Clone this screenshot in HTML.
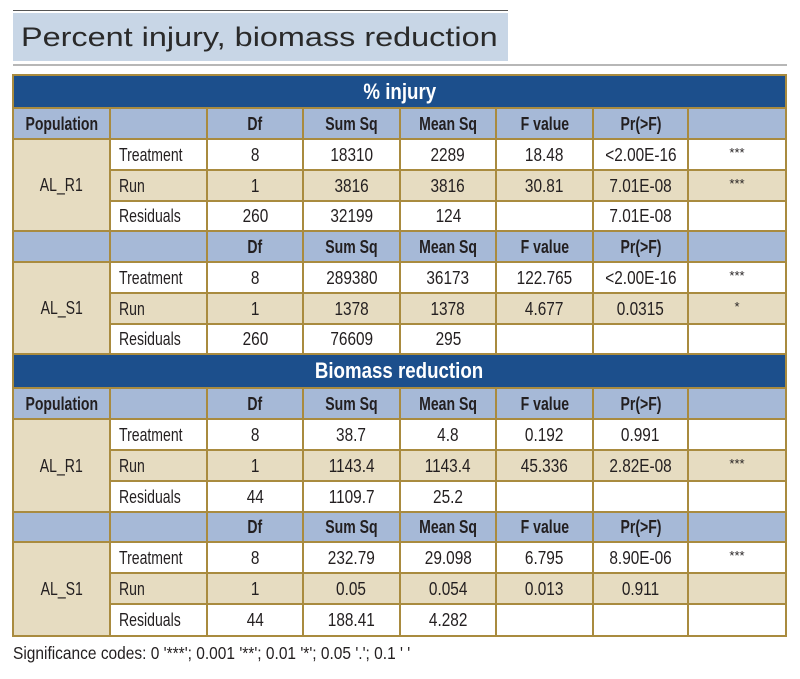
<!DOCTYPE html>
<html><head><meta charset="utf-8">
<style>
html,body{margin:0;padding:0;background:#fff;}
body{width:800px;height:679px;position:relative;overflow:hidden;font-family:"Liberation Sans",sans-serif;color:#231f20;}
.topline{position:absolute;left:13px;top:10px;width:495px;height:1px;background:#555;}
.tbox{position:absolute;left:13px;top:13px;width:495px;height:48px;background:#c8d6e6;}
.title{position:absolute;left:21px;top:13px;height:48px;line-height:48px;font-size:27px;color:#2a2a2a;white-space:nowrap;transform:scaleX(1.2);transform-origin:left center;}
.rule{position:absolute;left:13px;top:64px;width:774px;height:2px;background:#b7b7b7;}
.t{position:absolute;left:12px;top:74px;width:775px;height:563px;box-sizing:border-box;padding:2px;background:#a98b3f;display:grid;
grid-template-columns:95px 95px 94px 95px 94px 95px 93px 96px;
grid-template-rows:31px 29px 29px 29px 28px 29px 29px 29px 28px 32px 29px 29px 29px 29px 28px 29px 29px 30px;gap:2px;}
.t>div{display:flex;align-items:center;justify-content:center;font-size:18.5px;white-space:nowrap;overflow:visible;}
.t span{display:inline-block;transform:scaleX(.83);}
.t span.w{transform:scaleX(.76);}
.d{background:#1c4f8c;color:#fff;font-weight:bold;}
.d span{font-size:22px;transform:scaleX(.85)!important;}
.h{background:#a6b9d7;font-weight:bold;}
.h span{transform:scaleX(.76)!important;}
.w0{background:#fff;}
.tn{background:#e6dcc1;}
.p{background:#e6dcc1;}
.l{justify-content:flex-start!important;padding-left:8px;}
.l span{transform-origin:left center;}
.s span{font-size:13px;transform:none!important;position:relative;top:-2px;}
.foot{position:absolute;left:13px;top:643px;font-size:17.5px;white-space:nowrap;transform:scaleX(.885);transform-origin:left center;color:#231f20;}
</style></head><body>
<div class="topline"></div>
<div class="tbox"></div>
<div class="title">Percent injury, biomass reduction</div>
<div class="rule"></div>

<div class="t">
<div class="d" style="grid-column:1/9;grid-row:1"><span>% injury</span></div>
<div class="h"><span>Population</span></div><div class="h"></div><div class="h"><span>Df</span></div><div class="h"><span>Sum Sq</span></div><div class="h"><span>Mean Sq</span></div><div class="h"><span>F value</span></div><div class="h"><span>Pr(&gt;F)</span></div><div class="h"></div>
<div class="p" style="grid-column:1;grid-row:3/6"><span class="w">AL_R1</span></div>
<div class="w0 l"><span class="w">Treatment</span></div><div class="w0"><span>8</span></div><div class="w0"><span>18310</span></div><div class="w0"><span>2289</span></div><div class="w0"><span>18.48</span></div><div class="w0"><span>&lt;2.00E-16</span></div><div class="w0 s"><span>***</span></div>
<div class="tn l"><span class="w">Run</span></div><div class="tn"><span>1</span></div><div class="tn"><span>3816</span></div><div class="tn"><span>3816</span></div><div class="tn"><span>30.81</span></div><div class="tn"><span>7.01E-08</span></div><div class="tn s"><span>***</span></div>
<div class="w0 l"><span class="w">Residuals</span></div><div class="w0"><span>260</span></div><div class="w0"><span>32199</span></div><div class="w0"><span>124</span></div><div class="w0"></div><div class="w0"><span>7.01E-08</span></div><div class="w0"></div>
<div class="h"></div><div class="h"></div><div class="h"><span>Df</span></div><div class="h"><span>Sum Sq</span></div><div class="h"><span>Mean Sq</span></div><div class="h"><span>F value</span></div><div class="h"><span>Pr(&gt;F)</span></div><div class="h"></div>
<div class="p" style="grid-column:1;grid-row:7/10"><span class="w">AL_S1</span></div>
<div class="w0 l"><span class="w">Treatment</span></div><div class="w0"><span>8</span></div><div class="w0"><span>289380</span></div><div class="w0"><span>36173</span></div><div class="w0"><span>122.765</span></div><div class="w0"><span>&lt;2.00E-16</span></div><div class="w0 s"><span>***</span></div>
<div class="tn l"><span class="w">Run</span></div><div class="tn"><span>1</span></div><div class="tn"><span>1378</span></div><div class="tn"><span>1378</span></div><div class="tn"><span>4.677</span></div><div class="tn"><span>0.0315</span></div><div class="tn s"><span>*</span></div>
<div class="w0 l"><span class="w">Residuals</span></div><div class="w0"><span>260</span></div><div class="w0"><span>76609</span></div><div class="w0"><span>295</span></div><div class="w0"></div><div class="w0"></div><div class="w0"></div>

<div class="d" style="grid-column:1/9;grid-row:10"><span>Biomass reduction</span></div>
<div class="h" style="grid-row:11;grid-column:1"><span>Population</span></div><div class="h"></div><div class="h"><span>Df</span></div><div class="h"><span>Sum Sq</span></div><div class="h"><span>Mean Sq</span></div><div class="h"><span>F value</span></div><div class="h"><span>Pr(&gt;F)</span></div><div class="h"></div>
<div class="p" style="grid-column:1;grid-row:12/15"><span class="w">AL_R1</span></div>
<div class="w0 l"><span class="w">Treatment</span></div><div class="w0"><span>8</span></div><div class="w0"><span>38.7</span></div><div class="w0"><span>4.8</span></div><div class="w0"><span>0.192</span></div><div class="w0"><span>0.991</span></div><div class="w0"></div>
<div class="tn l"><span class="w">Run</span></div><div class="tn"><span>1</span></div><div class="tn"><span>1143.4</span></div><div class="tn"><span>1143.4</span></div><div class="tn"><span>45.336</span></div><div class="tn"><span>2.82E-08</span></div><div class="tn s"><span>***</span></div>
<div class="w0 l"><span class="w">Residuals</span></div><div class="w0"><span>44</span></div><div class="w0"><span>1109.7</span></div><div class="w0"><span>25.2</span></div><div class="w0"></div><div class="w0"></div><div class="w0"></div>
<div class="h"></div><div class="h"></div><div class="h"><span>Df</span></div><div class="h"><span>Sum Sq</span></div><div class="h"><span>Mean Sq</span></div><div class="h"><span>F value</span></div><div class="h"><span>Pr(&gt;F)</span></div><div class="h"></div>
<div class="p" style="grid-column:1;grid-row:16/19"><span class="w">AL_S1</span></div>
<div class="w0 l"><span class="w">Treatment</span></div><div class="w0"><span>8</span></div><div class="w0"><span>232.79</span></div><div class="w0"><span>29.098</span></div><div class="w0"><span>6.795</span></div><div class="w0"><span>8.90E-06</span></div><div class="w0 s"><span>***</span></div>
<div class="tn l"><span class="w">Run</span></div><div class="tn"><span>1</span></div><div class="tn"><span>0.05</span></div><div class="tn"><span>0.054</span></div><div class="tn"><span>0.013</span></div><div class="tn"><span>0.911</span></div><div class="tn"></div>
<div class="w0 l"><span class="w">Residuals</span></div><div class="w0"><span>44</span></div><div class="w0"><span>188.41</span></div><div class="w0"><span>4.282</span></div><div class="w0"></div><div class="w0"></div><div class="w0"></div>
</div>

<div class="foot">Significance codes: 0 '***'; 0.001 '**'; 0.01 '*'; 0.05 '.'; 0.1 ' '</div>
</body></html>
